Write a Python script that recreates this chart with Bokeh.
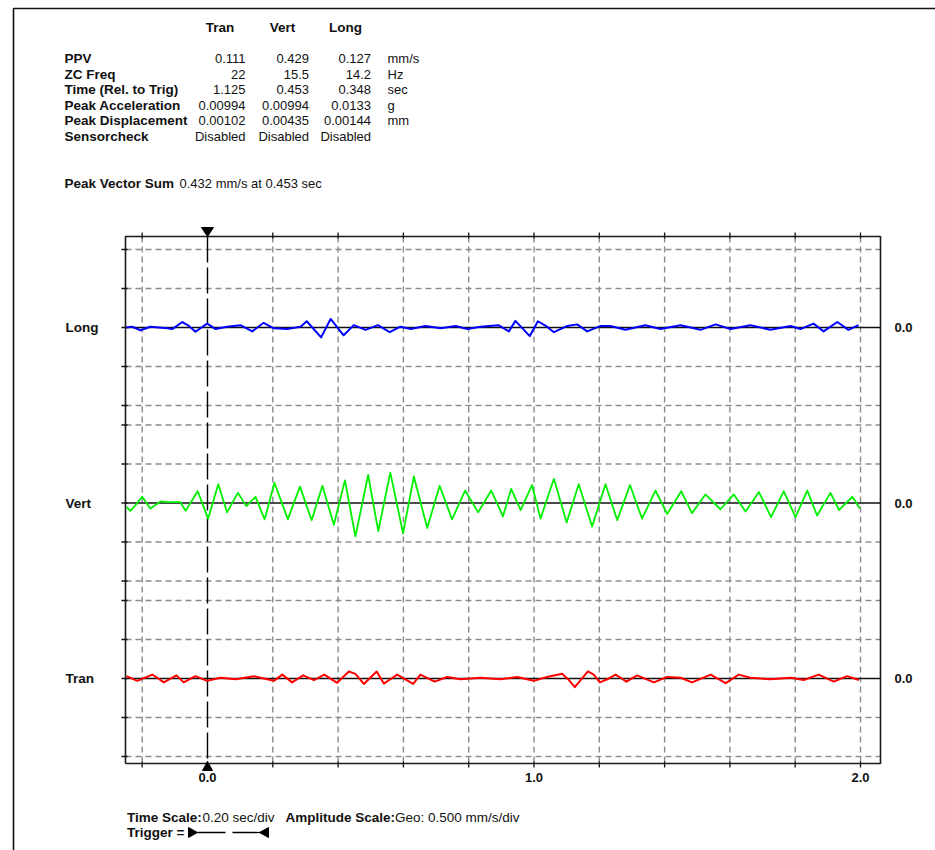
from bokeh.plotting import figure
from bokeh.models import Range1d, Label
from bokeh.embed import file_html
from bokeh.resources import INLINE

# ---------------- data ----------------
header_cols = ["Tran", "Vert", "Long"]
row_names = ["PPV", "ZC Freq", "Time (Rel. to Trig)", "Peak Acceleration",
             "Peak Displacement", "Sensorcheck"]
tran_vals = ["0.111", "22", "1.125", "0.00994", "0.00102", "Disabled"]
vert_vals = ["0.429", "15.5", "0.453", "0.00994", "0.00435", "Disabled"]
long_vals = ["0.127", "14.2", "0.348", "0.0133", "0.00144", "Disabled"]
row_units = ["mm/s", "Hz", "sec", "g", "mm", ""]
pvs_title = "Peak Vector Sum"
pvs_text = "0.432 mm/s at 0.453 sec"

channel_names = ["Tran", "Vert", "Long"]
time_major = [0.0, 1.0, 2.0]
time_labels = ["0.0", "1.0", "2.0"]
time_minor = [-0.2, 0.2, 0.4, 0.6, 0.8, 1.2, 1.4, 1.6, 1.8]
zero_label = "0.0"
amp_div = 0.5          # mm/s per division
trigger_time = 0.0

vert_t = [-0.248, -0.236, -0.221, -0.200, -0.175, -0.144, -0.123, -0.083, -0.067, -0.030,
          0.002, 0.033, 0.060, 0.093, 0.119, 0.147, 0.175, 0.205, 0.246, 0.283,
          0.319, 0.352, 0.387, 0.421, 0.453, 0.492, 0.523, 0.560, 0.599, 0.632,
          0.673, 0.711, 0.749, 0.789, 0.829, 0.869, 0.905, 0.930, 0.959, 0.994,
          1.020, 1.061, 1.100, 1.137, 1.178, 1.219, 1.255, 1.294, 1.331, 1.372,
          1.408, 1.451, 1.484, 1.525, 1.571, 1.612, 1.648, 1.689, 1.726, 1.765,
          1.801, 1.837, 1.867, 1.908, 1.934, 1.975, 1.998]
vert_v = [-0.05, -0.10, -0.03, 0.08, -0.07, 0.02, 0.01, 0.01, -0.10, 0.15,
          -0.20, 0.24, -0.12, 0.13, -0.04, 0.08, -0.21, 0.26, -0.21, 0.21,
          -0.22, 0.22, -0.28, 0.29, -0.429, 0.36, -0.36, 0.39, -0.39, 0.34,
          -0.32, 0.22, -0.21, 0.16, -0.12, 0.16, -0.17, 0.18, -0.09, 0.23,
          -0.20, 0.31, -0.25, 0.24, -0.30, 0.24, -0.22, 0.23, -0.20, 0.16,
          -0.14, 0.15, -0.13, 0.11, -0.08, 0.11, -0.11, 0.14, -0.18, 0.15,
          -0.18, 0.16, -0.16, 0.13, -0.09, 0.08, -0.07]

long_t = [-0.248, -0.231, -0.205, -0.175, -0.123, -0.108, -0.077, -0.057, -0.037, -0.001,
          0.025, 0.060, 0.101, 0.137, 0.172, 0.203, 0.244, 0.285, 0.304, 0.348,
          0.377, 0.417, 0.448, 0.484, 0.522, 0.558, 0.591, 0.622, 0.668, 0.714,
          0.760, 0.796, 0.836, 0.891, 0.923, 0.943, 0.987, 1.012, 1.040, 1.061,
          1.102, 1.132, 1.163, 1.204, 1.234, 1.280, 1.341, 1.387, 1.449, 1.510,
          1.556, 1.602, 1.663, 1.724, 1.786, 1.816, 1.856, 1.887, 1.929, 1.963, 1.994]
long_v = [0.00, 0.01, -0.035, 0.01, -0.01, -0.02, 0.07, 0.02, -0.055, 0.05,
          -0.02, 0.01, 0.03, -0.05, 0.06, -0.01, -0.02, 0.01, 0.08, -0.127,
          0.11, -0.10, 0.03, -0.03, 0.03, -0.06, 0.01, -0.02, 0.02, -0.01,
          0.02, -0.02, 0.01, 0.03, -0.05, 0.085, -0.11, 0.08, 0.01, -0.06,
          0.02, 0.04, -0.05, 0.02, 0.02, -0.03, 0.03, -0.02, 0.03, -0.03,
          0.04, -0.02, 0.03, -0.03, 0.02, -0.02, 0.05, -0.05, 0.07, -0.03, 0.03]

tran_t = [-0.248, -0.215, -0.169, -0.154, -0.134, -0.095, -0.073, -0.037, -0.001, 0.040,
          0.086, 0.142, 0.203, 0.229, 0.259, 0.293, 0.326, 0.358, 0.397, 0.433,
          0.453, 0.479, 0.518, 0.540, 0.560, 0.581, 0.630, 0.652, 0.696, 0.734,
          0.775, 0.836, 0.897, 0.949, 0.999, 1.040, 1.086, 1.107, 1.125, 1.165,
          1.183, 1.202, 1.224, 1.250, 1.283, 1.316, 1.367, 1.408, 1.449, 1.484,
          1.541, 1.587, 1.627, 1.663, 1.724, 1.786, 1.826, 1.872, 1.918, 1.959, 1.995]
tran_v = [0.03, -0.03, 0.05, 0.01, -0.05, 0.04, -0.05, 0.03, -0.03, 0.01,
          -0.01, 0.03, -0.03, 0.05, -0.05, 0.04, -0.02, 0.05, -0.055, 0.09,
          0.06, -0.07, 0.09, -0.065, -0.01, 0.05, -0.07, 0.05, -0.04, 0.02,
          -0.01, 0.01, -0.01, 0.02, -0.03, 0.02, 0.06, -0.02, -0.111, 0.09,
          0.05, -0.05, -0.01, 0.05, -0.04, 0.04, -0.05, 0.02, 0.01, -0.05,
          0.05, -0.06, 0.05, 0.01, -0.01, 0.01, -0.02, 0.05, -0.04, 0.03, -0.02]

# ---------------- layout / style ----------------
W, H = 935, 850
T0_PX, PX_PER_S = 207.0, 326.5       # page x of t = 0, pixels per second
Z0_PX, PX_PER_U = 678.0, 78.0        # page y of the lowest trace's zero, pixels per mm/s
FRAME_L, FRAME_R, FRAME_T, FRAME_B = 125, 880, 236, 763
OFFSETS = {"Tran": 0.0, "Vert": 2.25, "Long": 4.5}
COLORS = {"Tran": "#ff0000", "Vert": "#00f000", "Long": "#0000ff"}
WIDTHS = {"Tran": 2.0, "Vert": 1.8, "Long": 2.0}
FONT = "Liberation Sans"
INK = "#111111"
GRID_COL = "#8a8a8a"
DASH_ON, DASH_OFF = 6, 4             # px
GRID_W = 1.4                         # px


def tx(X):
    return (X - T0_PX) / PX_PER_S


def vy(Y):
    return (Z0_PX - Y) / PX_PER_U


p = figure(width=W, height=H, x_range=Range1d(tx(0), tx(W)), y_range=Range1d(vy(H), vy(0)),
           x_axis_type=None, y_axis_type=None, toolbar_location=None,
           output_backend="svg", min_border=0, outline_line_color=None,
           background_fill_color="white", border_fill_color="white")

X0, X1, Y0, Y1 = tx(FRAME_L), tx(FRAME_R), vy(FRAME_B), vy(FRAME_T)
offs = [OFFSETS[c] for c in channel_names]
grid_y = sorted(o + k * amp_div for o in offs for k in (-2, -1, 1, 2))
time_all = sorted(time_major + time_minor)
grid_x = [t for t in time_all if t != trigger_time]

# dashed grid, every dash a small filled bar
hw_y = GRID_W / 2 / PX_PER_U
hw_x = GRID_W / 2 / PX_PER_S
ql, qr, qb, qt = [], [], [], []
on_x, per_x = DASH_ON / PX_PER_S, (DASH_ON + DASH_OFF) / PX_PER_S
for g in grid_y:
    x = X0
    while x < X1:
        ql.append(x)
        qr.append(min(x + on_x, X1))
        qb.append(g - hw_y)
        qt.append(g + hw_y)
        x += per_x
on_y, per_y = DASH_ON / PX_PER_U, (DASH_ON + DASH_OFF) / PX_PER_U
for g in grid_x:
    y = Y1
    while y > Y0:
        ql.append(g - hw_x)
        qr.append(g + hw_x)
        qt.append(y)
        qb.append(max(y - on_y, Y0))
        y -= per_y
p.quad(left=ql, right=qr, bottom=qb, top=qt, fill_color=GRID_COL, line_color=None)

# ticks (out 4 px, in 2 px)
tout_y, tin_y = 4 / PX_PER_U, 2 / PX_PER_U
tout_x, tin_x = 4 / PX_PER_S, 2 / PX_PER_S
p.multi_line(xs=[[t, t] for t in time_all], ys=[[Y0 - tout_y, Y0 + tin_y] for _ in time_all],
             line_color=INK, line_width=1.3)
p.multi_line(xs=[[t, t] for t in time_all], ys=[[Y1 - tin_y, Y1 + tout_y] for _ in time_all],
             line_color=INK, line_width=1.3)
left_ticks = sorted(grid_y + offs)
p.multi_line(xs=[[X0 - tout_x, X0 + tin_x] for _ in left_ticks],
             ys=[[g, g] for g in left_ticks], line_color=INK, line_width=1.3)

# zero lines of each channel
for o in offs:
    p.line([X0, X1], [o, o], line_color=INK, line_width=1.4)

# frame
p.line([X0, X1, X1, X0, X0], [Y0, Y0, Y1, Y1, Y0], line_color="#1a1a1a", line_width=1.6)

# trigger line (long dashes)
txs, tys = [], []
on_t, per_t = 26 / PX_PER_U, 31 / PX_PER_U
y = Y1
while y > Y0:
    txs.append([trigger_time, trigger_time])
    tys.append([y, max(y - on_t, Y0)])
    y -= per_t
p.multi_line(xs=txs, ys=tys, line_color="black", line_width=1.4, line_cap="butt")

# traces
series = {"Tran": (tran_t, tran_v), "Vert": (vert_t, vert_v), "Long": (long_t, long_v)}
for name in channel_names:
    t, v = series[name]
    o = OFFSETS[name]
    p.line(t, [val + o for val in v], line_color=COLORS[name], line_width=WIDTHS[name],
           line_join="round")

# trigger markers on frame
hw = 6 / PX_PER_S
p.patch([trigger_time - hw, trigger_time + hw, trigger_time],
        [vy(227), vy(227), vy(236)], fill_color="black", line_color="black")
hw2 = 5 / PX_PER_S
p.patch([trigger_time - hw2, trigger_time + hw2, trigger_time],
        [vy(770), vy(770), vy(761)], fill_color="black", line_color="black")

# page border (left + top)
p.line([tx(13), tx(13), tx(W)], [vy(H), vy(8), vy(8)], line_color=INK, line_width=1.6)


def lab(text, x, y, align="left", bold=False, size=13):
    p.add_layout(Label(x=x, y=y, text=text, text_align=align, text_baseline="middle",
                       text_font=FONT, text_font_size=f"{size}px",
                       text_font_style="bold" if bold else "normal", text_color=INK))


# axis labels
for t, s in zip(time_major, time_labels):
    lab(s, t, vy(777), align="center", bold=True, size=13)
for name in channel_names:
    lab(zero_label, tx(894), OFFSETS[name], bold=True, size=13)
    lab(name, tx(65), OFFSETS[name], bold=True, size=13.5)

# header table
col_centers = [219.5, 282, 345]
col_rights = [245, 308.5, 370.5]
for name, cx in zip(header_cols, col_centers):
    lab(name, tx(cx), vy(27), align="center", bold=True, size=13.5)
row_y = [58, 73.5, 89, 104.5, 120, 135.5]
cols = [tran_vals, vert_vals, long_vals]
for i, (rn, ry) in enumerate(zip(row_names, row_y)):
    lab(rn, tx(64), vy(ry), bold=True, size=13.5)
    for vals, rx in zip(cols, col_rights):
        lab(vals[i], tx(rx), vy(ry), align="right")
    if row_units[i]:
        lab(row_units[i], tx(387), vy(ry))

lab(pvs_title, tx(64), vy(183), bold=True, size=13.5)
lab(pvs_text, tx(179), vy(183))

# footer
lab("Time Scale:", tx(126.5), vy(817), bold=True, size=13.5)
lab("0.20 sec/div", tx(202), vy(817), size=13.5)
lab("Amplitude Scale:", tx(285), vy(817), bold=True, size=13.5)
lab("Geo: 0.500 mm/s/div", tx(394.5), vy(817), size=13.5)
lab("Trigger =", tx(126.5), vy(832), bold=True, size=13.5)

p.patch([tx(188), tx(188), tx(197)], [vy(827), vy(837), vy(832)], fill_color="black",
        line_color="black")
p.patch([tx(268), tx(268), tx(259)], [vy(827), vy(837), vy(832)], fill_color="black",
        line_color="black")
p.multi_line(xs=[[tx(197), tx(225)], [tx(232), tx(260)]], ys=[[vy(832), vy(832)]] * 2,
             line_color="black", line_width=1.3)

open("out.html", "w").write(file_html(p, INLINE))
